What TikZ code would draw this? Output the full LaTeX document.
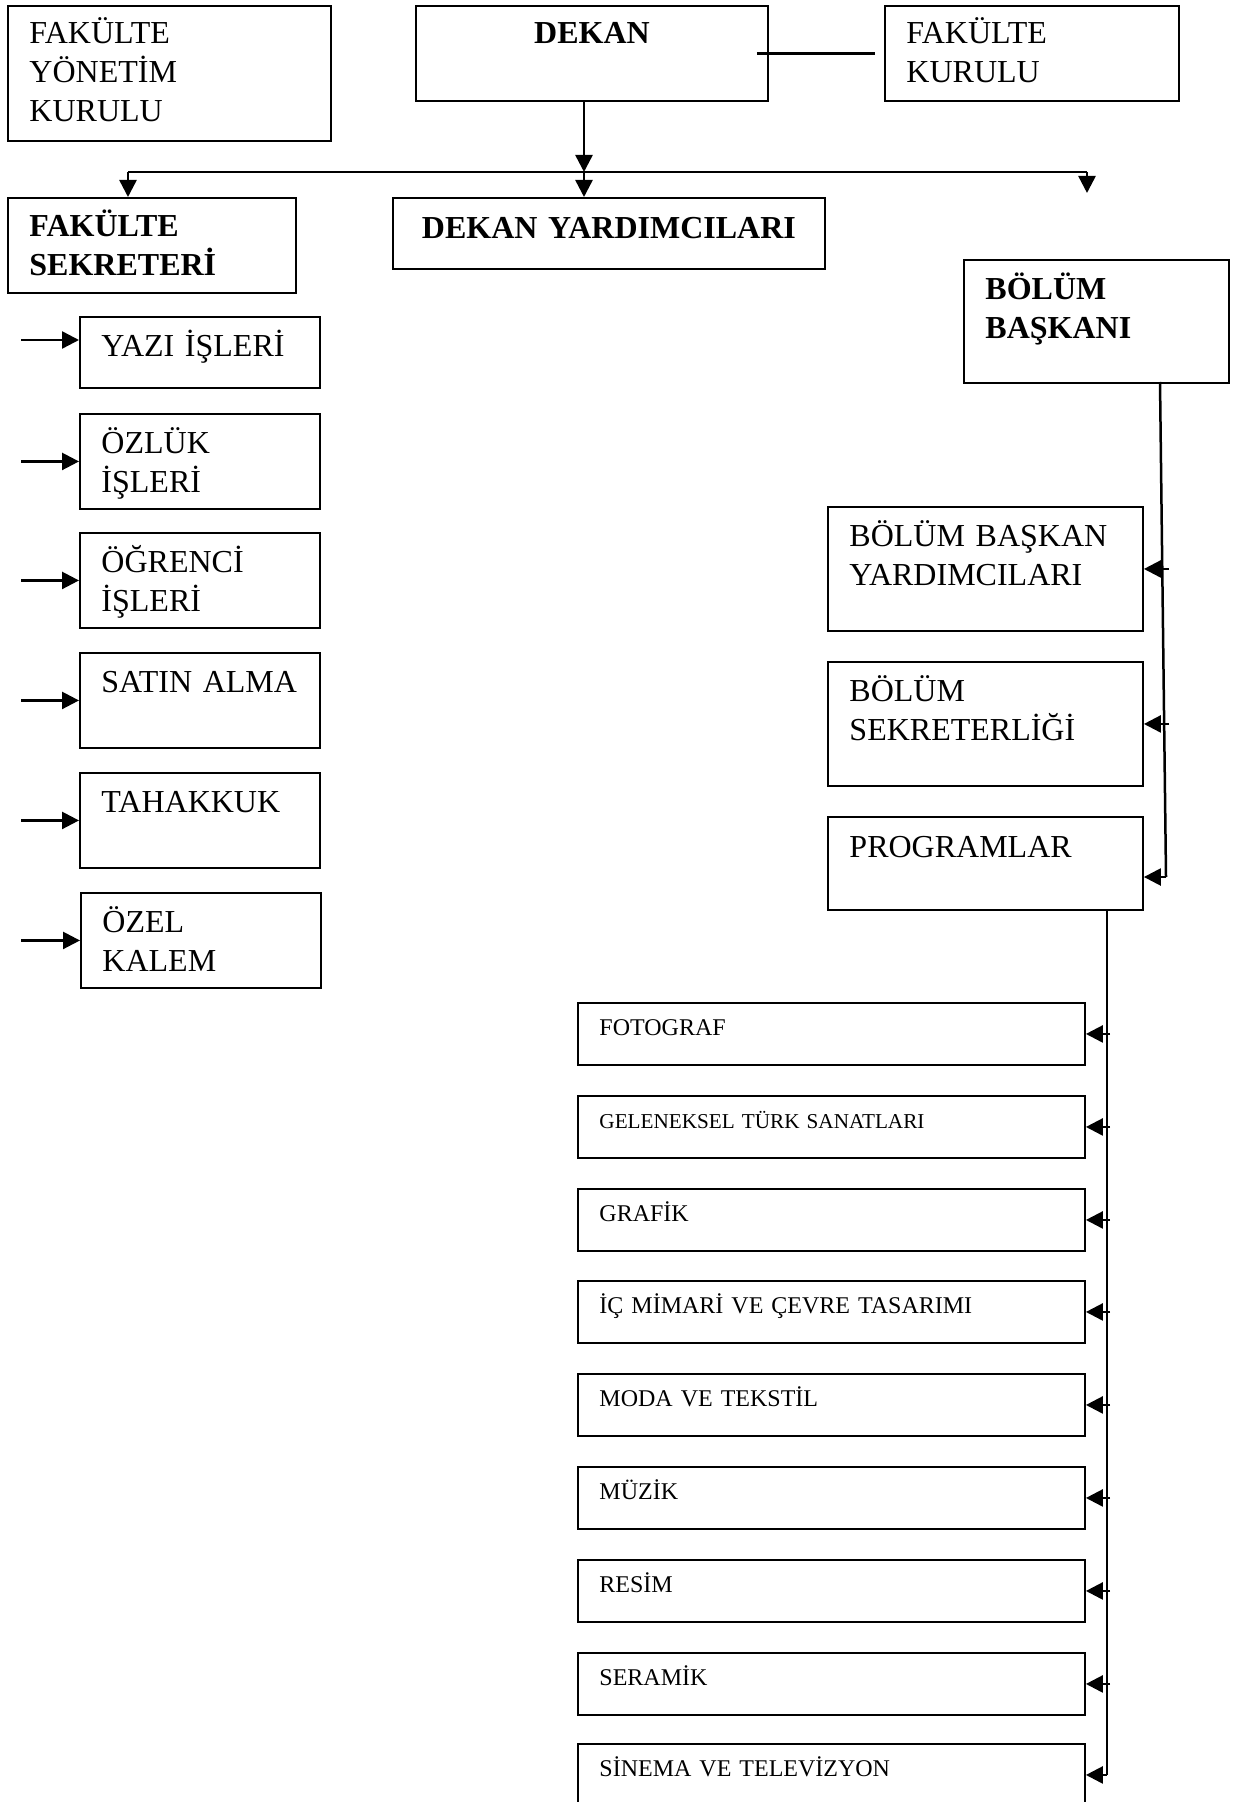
\documentclass[tikz,border=0pt]{standalone}
\usepackage{fontspec}
\setmainfont{Liberation Serif}
\usetikzlibrary{arrows.meta}
\newcommand{\buyuk}{\fontsize{16}{19.5}\selectfont}
\newcommand{\kucuk}{\fontsize{12}{14}\selectfont}
\begin{document}
\begin{tikzpicture}[x=1pt,y=-1pt]
% Styles
\tikzstyle{kutu}=[draw,line width=0.95pt,anchor=north west,inner xsep=10.75pt,inner ysep=0pt,align=left,text height=20pt,font=\buyuk]
\tikzstyle{kalin}=[font=\buyuk\bfseries]
\tikzstyle{sol kutu}=[kutu,text width=98.5pt,text depth=27.5pt]
\tikzstyle{sag kutu}=[kutu,text width=136pt,text depth=42pt]
\tikzstyle{program}=[kutu,text width=232pt,text height=16.5pt,text depth=14.5pt,font=\kucuk]
\tikzstyle{hat}=[line width=1.25pt]
\tikzstyle{ok}=[hat,-{Triangle[length=8.5pt,width=8.5pt]}]

% Page frame
\path[use as bounding box] (0,0) rectangle (620,901);
\clip (0,0) rectangle (620,901);

% Top row
\node[kutu,text width=140pt,text height=19pt,text depth=48.5pt] (fyk) at (3.5,2.5) {FAKÜLTE\\YÖNETİM\\KURULU};
\node[kutu,kalin,align=center,text width=154.5pt,text height=19pt,text depth=28.5pt] (dekan) at (207.5,2.5) {DEKAN};
\node[kutu,text width=125.5pt,text height=19pt,text depth=28.5pt] (fk) at (442,2.5) {FAKÜLTE\\KURULU};

% Second row
\node[kutu,kalin,text width=122.5pt,text height=19.5pt,text depth=28pt] (fs) at (3.5,98.5) {FAKÜLTE\\SEKRETERİ};
\node[kutu,kalin,align=center,text width=194.5pt,text height=20.5pt,text depth=15pt] (dy) at (196,98.5) {DEKAN~YARDIMCILARI};
\node[kutu,kalin,text width=111pt,text depth=41.5pt] (bb) at (481.5,129.5) {BÖLÜM\\BAŞKANI};

% Units under the faculty secretary
\node[sol kutu,text depth=15.5pt] (yazi) at (39.5,158) {YAZI~İŞLERİ};
\node[sol kutu] (ozluk) at (39.5,206.5) {ÖZLÜK\\İŞLERİ};
\node[sol kutu] (ogrenci) at (39.5,266) {ÖĞRENCİ\\İŞLERİ};
\node[sol kutu] (satin) at (39.5,326) {SATIN~ALMA};
\node[sol kutu] (tahakkuk) at (39.5,386) {TAHAKKUK};
\node[sol kutu] (ozel) at (40,446) {ÖZEL\\KALEM};

% Units under the head of department
\node[sag kutu] (bby) at (413.5,253) {BÖLÜM~BAŞKAN\\YARDIMCILARI};
\node[sag kutu] (bs) at (413.5,330.5) {BÖLÜM\\SEKRETERLİĞİ};
\node[sag kutu,text height=20.5pt,text depth=26pt] (prog) at (413.5,408) {PROGRAMLAR};

% Programmes
\node[program] (fotograf) at (288.5,501) {FOTOGRAF};
\node[program,font=\fontsize{10.6}{12}\selectfont] (geleneksel) at (288.5,547.5) {GELENEKSEL TÜRK SANATLARI};
\node[program] (grafik) at (288.5,594) {GRAFİK};
\node[program] (icmimari) at (288.5,640) {İÇ MİMARİ VE ÇEVRE TASARIMI};
\node[program] (moda) at (288.5,686.5) {MODA VE TEKSTİL};
\node[program] (muzik) at (288.5,733) {MÜZİK};
\node[program] (resim) at (288.5,779.5) {RESİM};
\node[program] (seramik) at (288.5,826) {SERAMİK};
\node[program] (sinema) at (288.5,871.5) {SİNEMA VE TELEVİZYON};

% Coordinates and points.
\coordinate (dalorta) at (292,86);	% Dean line meets the branch.
\coordinate (dalsol) at (64,86);	% Left end of the branch.
\coordinate (dalsag) at (543.5,86);	% Right end of the branch.
\coordinate (dalucu) at (543.5,96.5);	% Free end of the right arrow.
\coordinate (sol) at (10.5,170);	% Tails of the left arrows.
\coordinate (bbust) at (580,191);	% Head of department line, top.
\coordinate (bbalt) at (583,438.5);	% Head of department line, bottom.
\coordinate (pust) at (553.5,454.5);	% Programme line, top.

% Draw the branch under the dean.
\draw[hat] ([xshift=-6pt]dekan.east) -- ([xshift=-4.5pt]fk.west);
\draw[ok] (dekan.south -| dalorta) -- (dalorta);
\draw[ok] (dalorta) -- (dalorta |- dy.north);
\draw[hat] (dalsol) -- (dalsag);
\draw[ok] (dalsol) -- (dalsol |- fs.north);
\draw[ok] (dalsag) -- (dalucu);

% Left arrows.
\draw[ok] (sol) -- (sol -| yazi.west);
\draw[ok] (ozluk.west -| sol) -- (ozluk.west);
\draw[ok] (ogrenci.west -| sol) -- (ogrenci.west);
\draw[ok] (satin.west -| sol) -- (satin.west);
\draw[ok] (tahakkuk.west -| sol) -- (tahakkuk.west);
\draw[ok] (ozel.west -| sol) -- (ozel.west);

% Head of department line.
\draw[hat] (bbust) -- (bbalt);
\draw[ok] ([xshift=1.5pt]bby.east -| bbalt) -- (bby.east);
\draw[ok] ([xshift=1.5pt]bs.east -| bbalt) -- (bs.east);
\draw[ok] (bbalt) -- (bbalt -| prog.east);

% Programme line.
\draw[hat] (pust) -- (sinema.east -| pust);
\draw[ok] ([xshift=1.5pt]fotograf.east -| pust) -- (fotograf.east);
\draw[ok] ([xshift=1.5pt]geleneksel.east -| pust) -- (geleneksel.east);
\draw[ok] ([xshift=1.5pt]grafik.east -| pust) -- (grafik.east);
\draw[ok] ([xshift=1.5pt]icmimari.east -| pust) -- (icmimari.east);
\draw[ok] ([xshift=1.5pt]moda.east -| pust) -- (moda.east);
\draw[ok] ([xshift=1.5pt]muzik.east -| pust) -- (muzik.east);
\draw[ok] ([xshift=1.5pt]resim.east -| pust) -- (resim.east);
\draw[ok] ([xshift=1.5pt]seramik.east -| pust) -- (seramik.east);
\draw[ok] (sinema.east -| pust) -- (sinema.east);
\end{tikzpicture}
\end{document}
